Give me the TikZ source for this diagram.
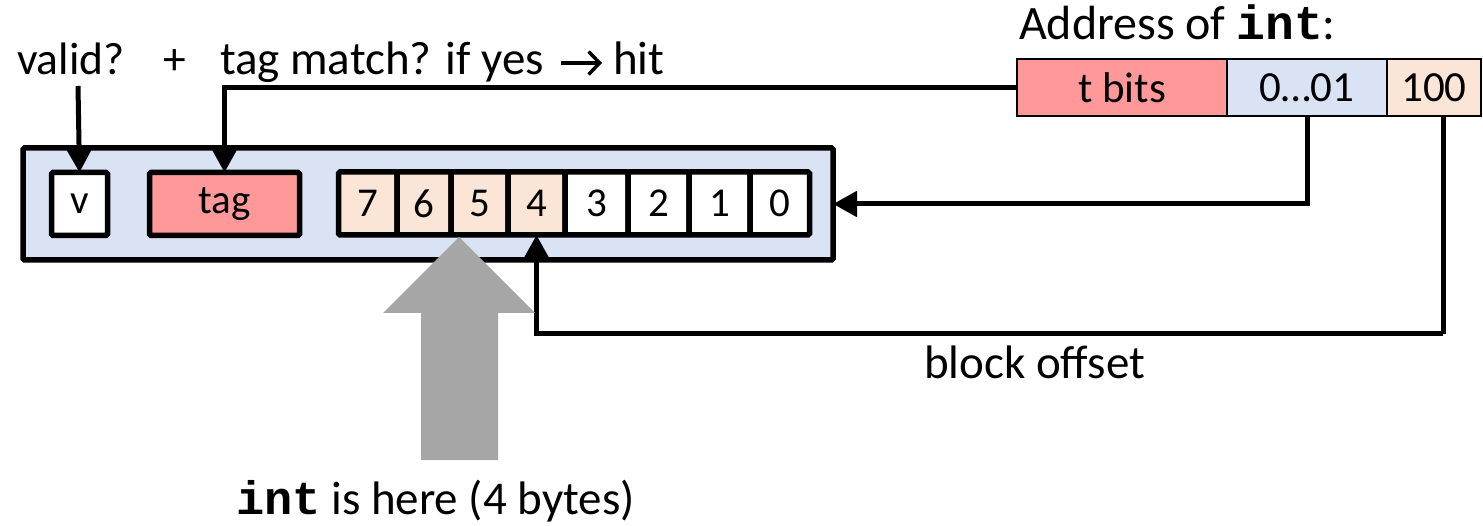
\documentclass[tikz,border=0pt]{standalone}
\usepackage{fontspec}
\setmainfont{Carlito}
\newfontfamily\codefont{Liberation Mono}
\usetikzlibrary{arrows.meta}

\definecolor{tagred}{HTML}{FF9999}
\definecolor{lineblue}{HTML}{DAE3F3}
\definecolor{bytepeach}{HTML}{FBE5D6}
\definecolor{bigarrow}{HTML}{A6A6A6}

\newcommand{\code}[1]{{\codefont\bfseries #1}}

\begin{document}
\begin{tikzpicture}[x=1pt,y=-1pt,
  every node/.style={inner sep=0pt, outer sep=0pt},
  boxtext/.style={font=\fontsize{41}{48}\selectfont},
  field/.style={draw, boxtext, line width=5.5pt, rounded corners=1.5pt, minimum height=63pt, anchor=center},
  whitebyte/.style={field, fill=white},
  peachbyte/.style={field, fill=bytepeach},
  addrfield/.style={draw, line width=2.5pt, minimum height=57pt, anchor=center,
    font=\fontsize{43}{50}\selectfont},
  label/.style={font=\fontsize{47}{56}\selectfont, anchor=base west},
  toplabel/.style={font=\fontsize{45.5}{54}\selectfont, anchor=base west},
  conn/.style={line width=5pt, -{Triangle[length=24pt,width=25pt]}},
  wire/.style={line width=5pt},
  textarrow/.style={line width=3.5pt, -{Straight Barb[length=11pt,width=23pt]}}
]
\useasboundingbox (0,0) rectangle (1483,526);

% cache line
\node[draw, line width=5.5pt, rounded corners=1.5pt, fill=lineblue,
      minimum width=810pt, minimum height=112pt] (outer) at (428,204) {};
\node[whitebyte, minimum width=56pt] (v) at (79.5,204) {v};
\node[field, fill=tagred, minimum width=150pt] (tag) at (224.5,204) {tag};

% data bytes 7..0
\node[peachbyte, minimum width=58.5pt] (c7) at (367.75,203.5) {7};
\node[peachbyte, minimum width=54pt]   (c6) at (424,203.5) {6};
\node[peachbyte, minimum width=57pt]   (c5) at (479.5,203.5) {5};
\node[peachbyte, minimum width=57pt]   (c4) at (536.5,203.5) {4};
\node[whitebyte, minimum width=63pt]   (c3) at (596.5,203.5) {3};
\node[whitebyte, minimum width=61pt]   (c2) at (658.5,203.5) {2};
\node[whitebyte, minimum width=61pt]   (c1) at (719.5,203.5) {1};
\node[whitebyte, minimum width=59.5pt] (c0) at (779.75,203.5) {0};

% address of the int
\node[label, font=\fontsize{48}{56}\selectfont] (addrlabel) at (1019,40) {Address of \code{int}:};
\node[addrfield, fill=tagred, minimum width=210pt] (tbits) at (1122,87.5) {t bits};
\node[addrfield, fill=lineblue, minimum width=160pt] (mid) at (1307,87.5) {0\dots01};
\node[addrfield, fill=bytepeach, minimum width=94pt] (low) at (1434,87.5) {100};

% hit condition
\node[toplabel] (valid) at (17,75) {valid?};
\node[toplabel] (plus) at (163,75) {+};
\node[toplabel, font=\fontsize{47}{56}\selectfont] (match) at (220,75) {tag match? if yes};
\node[toplabel, font=\fontsize{47}{56}\selectfont] (hit) at (613,75) {hit};
\draw[textarrow] ([xshift=17pt,yshift=12pt]match.base east) -- ([xshift=-11pt,yshift=12pt]hit.base west);

% connectors
\coordinate (vsrc) at (78,86);
\draw[conn] (vsrc) -- (v.north);
\draw[conn] (tbits.west) -| (tag.north);
\draw[conn] (mid.south) |- (outer.east);
\coordinate (offtop) at (1443,116);
\coordinate (offturn) at (1443,334);
\draw[wire] (offtop) -- (offturn);
\draw[conn] (offturn) -| (c4.south);
\node[label] (offlabel) at (924,379) {block offset};

% big gray arrow pointing at the int
\fill[bigarrow] (459,237) -- (535,313) -- (498,313) -- (498,460)
  -- (421,460) -- (421,313) -- (383,313) -- cycle;
\node[label] (intlabel) at (236,514) {\code{int} is here (4 bytes)};
\end{tikzpicture}
\end{document}
